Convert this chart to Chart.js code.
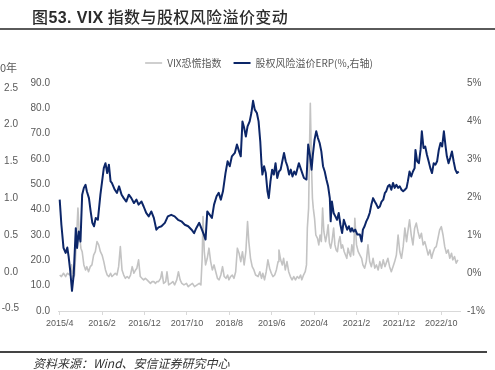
<!DOCTYPE html>
<html><head><meta charset="utf-8">
<script src="https://cdn.jsdelivr.net/npm/chart.js@4.4.0/dist/chart.umd.min.js"></script>
<style>
html,body{margin:0;padding:0;background:#fff;}
#wrap{position:relative;width:495px;height:370px;overflow:hidden;background:#fff;}
#c{position:absolute;left:0;top:0;}
.t{position:absolute;white-space:nowrap;}
.lax{left:0;width:18px;text-align:right;font:10px "Liberation Sans",Arial,sans-serif;color:#595959;line-height:12px;}
</style></head><body>
<div id="wrap">
<canvas id="c" width="495" height="370"></canvas>
<div class="t" style="left:32px;top:8px;font-size:16px;line-height:16px;letter-spacing:0.4px;color:#2b2b2b;font-family:'Noto Sans CJK SC',sans-serif;font-weight:500;">图<span style="font-family:'Liberation Sans',Arial,sans-serif;font-weight:bold;">53. VIX</span> 指数与股权风险溢价变动</div>
<div class="t" style="left:0;top:28px;width:495px;height:2px;background:#5a5a5a;"></div>
<div class="t" style="left:0;top:60px;font:11px 'Noto Sans CJK SC',sans-serif;color:#595959;line-height:14px;">0年</div>
<div class="t lax" style="top:82px;">2.5</div>
<div class="t lax" style="top:118px;">2.0</div>
<div class="t lax" style="top:155px;">1.5</div>
<div class="t lax" style="top:192px;">1.0</div>
<div class="t lax" style="top:229px;">0.5</div>
<div class="t lax" style="top:266px;">0.0</div>
<div class="t lax" style="top:302px;width:19px;">-0.5</div>
<div class="t" style="left:0;top:351px;width:487px;height:2px;background:#444;"></div>
<div class="t" style="left:33px;top:355px;font:italic 12px 'Noto Sans CJK SC',sans-serif;line-height:15px;color:#333;">资料来源：Wind、安信证券研究中心</div>
</div>
<script>
// x positions in months since 2015/4
const xTickLabels = ["2015/4","2016/2","2016/12","2017/10","2018/8","2019/6","2020/4","2021/2","2021/12","2022/10"];

const vixMonths = [0,0.4,0.9,1.4,1.8,2.4,2.8,3.1,3.5,3.9,4.3,4.6,5.0,5.3,5.7,6.1,6.4,6.8,7.2,7.6,8.0,8.4,8.8,9.2,9.6,10.0,10.4,10.8,11.2,11.6,12.0,12.3,12.7,13.1,13.5,13.9,14.3,14.7,15.1,15.5,15.9,16.3,16.7,17.1,17.5,17.9,18.2,18.6,19.0,19.4,19.8,20.2,20.6,21.0,21.4,21.8,22.2,22.6,22.9,23.3,
23.8,24.1,24.5,25.0,25.3,25.7,26.2,26.7,27.1,27.6,28.0,28.4,28.8,29.3,29.9,30.3,30.8,31.3,31.8,32.4,32.9,33.3,33.6,33.8,34.1,34.4,34.8,35.2,35.6,36.0,36.4,36.8,37.2,37.6,38.0,38.4,38.8,39.2,39.6,39.9,40.3,40.7,41.1,41.5,41.9,42.3,42.7,43.1,43.5,43.9,44.3,44.6,45.0,45.4,45.8,46.2,
46.8,47.2,47.6,47.9,48.3,48.7,49.1,49.5,49.9,50.3,50.7,51.1,51.5,51.7,52.1,52.5,52.8,53.2,53.6,54.0,54.4,54.8,55.2,55.6,56.0,56.4,56.8,57.1,57.5,57.9,58.2,58.4,58.7,58.9,59.1,59.4,59.6,59.8,60.1,60.4,60.8,61.1,61.4,61.7,62.0,62.3,62.7,63.0,63.3,63.6,63.9,64.2,64.6,64.9,65.2,65.5,65.8,66.1,66.4,66.7,67.1,67.4,67.7,68.0,68.3,68.6,68.9,69.3,
69.6,70.0,70.4,70.8,71.2,71.5,71.9,72.3,72.7,73.1,73.5,73.9,74.3,74.7,75.1,75.5,75.9,76.3,76.7,77.0,77.4,77.8,78.2,78.6,79.0,79.4,79.8,80.2,80.6,81.0,81.4,81.8,82.1,82.5,82.9,83.3,83.7,84.1,84.5,84.9,85.3,85.7,86.1,86.5,86.9,87.3,87.7,88.0,88.4,88.8,89.2,89.6,90.0,90.4,90.8,91.2,91.6,92.0,92.4,92.7,93.1,93.5,93.9];
const vixValues = [14.2,13.6,14.9,13.6,14.9,14.2,18.2,12.9,14.2,26.1,40.6,31.3,24.8,23.4,18.2,16.2,17.5,15.5,17.5,18.2,22.1,23.4,27.4,26.1,23.4,22.1,19.5,16.2,14.2,13.6,14.9,13.6,14.2,14.9,14.2,17.5,25.4,16.2,14.2,12.9,13.6,12.9,14.2,17.5,14.9,16.2,16.9,20.2,13.6,12.9,12.3,12.9,12.3,11.6,10.9,11.6,11.6,10.9,11.6,11.6,
12.9,15.5,10.9,11.6,15.5,10.3,10.9,11.6,10.3,12.3,15.5,12.3,10.9,10.3,10.9,9.6,10.3,10.9,9.6,10.3,10.9,10.3,20.8,37.3,23.4,18.2,20.8,24.8,19.5,16.2,18.2,15.5,12.9,12.3,14.2,17.5,13.6,12.9,14.2,12.3,13.6,14.2,12.9,15.5,24.8,22.8,19.5,23.4,18.2,23.4,35.3,27.4,20.8,17.5,16.2,14.2,
13.6,15.5,12.9,14.9,12.3,15.5,20.2,16.9,14.9,13.6,14.2,16.2,19.5,24.1,20.2,18.2,20.8,16.2,19.5,15.5,13.6,12.3,13.6,12.3,13.6,12.9,14.2,12.3,14.2,15.5,18.2,32.7,40.6,63,82,56.4,44.5,40.6,36.6,30,28.7,26.1,30,27.4,40.6,31.3,27.4,30,34,26.8,24.8,27.4,32.7,26.1,24.1,23.4,27.4,29.4,24.8,26.1,23.4,22.1,20.8,24.8,22.8,21.5,26.1,22.1,
36.6,26.1,23.4,22.1,20.8,18.2,16.9,19.5,26.1,19.5,17.5,20.8,16.9,18.2,16.2,19.5,16.9,20.2,17.5,18.9,20.8,17.5,15.5,17.5,19.5,22.1,30,23.4,20.8,25.4,32.7,27.4,31.3,36,30,26.1,32.7,34.7,31.3,28.7,30.7,26.1,27.4,24.8,22.1,24.1,20.8,22.8,24.8,25.4,28.7,32,33.3,30,25.4,22.8,24.1,20.8,22.8,20.2,21.5,18.9,20.2];

const erpMonths = [0,0.4,0.9,1.4,1.8,2.1,2.5,2.9,3.3,3.8,4.1,4.5,4.9,5.3,5.7,6.1,6.4,6.9,7.3,7.7,8.1,8.5,9.0,9.6,10.0,10.4,10.8,11.2,11.6,12.0,12.3,13.0,13.5,14.0,14.6,15.1,15.7,16.3,16.9,17.5,18.1,18.6,19.3,19.8,20.4,21.0,21.6,22.2,22.8,23.3,
24.0,24.8,25.5,26.3,27.1,27.9,28.7,29.5,30.3,31.1,31.7,32.2,32.9,33.4,34.0,34.4,34.8,35.4,35.9,36.4,37.0,37.5,38.0,38.5,39.1,39.6,40.1,40.6,41.3,41.8,42.3,42.7,43.1,43.5,43.9,44.3,44.8,45.2,45.6,46.0,46.5,46.9,47.3,47.6,47.8,48.2,48.6,49.0,49.3,49.7,50.1,50.5,50.9,51.3,51.7,52.1,52.5,52.9,53.3,53.7,54.1,54.5,54.9,55.3,55.7,56.1,56.4,56.8,57.2,57.6,58.2,58.6,59.0,59.4,59.7,60.1,60.5,60.9,61.3,61.7,62.1,62.5,62.9,63.3,63.7,63.9,64.2,64.6,65.0,65.4,65.8,66.2,66.6,67.0,67.4,67.8,68.2,68.6,68.9,69.3,69.7,70.2,
70.8,71.2,71.5,71.9,72.3,72.7,73.1,73.5,73.9,74.3,74.7,75.1,75.5,75.9,76.3,76.7,77.0,77.4,77.8,78.2,78.6,79.0,79.4,79.8,80.2,80.6,81.0,81.4,81.8,82.1,82.5,82.9,83.3,83.7,83.9,84.3,84.7,85.1,85.4,85.8,86.2,86.6,87.0,87.4,87.8,88.2,88.6,89.0,89.4,89.8,90.2,90.6,91.0,91.3,91.7,92.1,92.5,92.9,93.3,93.7,94.1];
const erpValues = [1.93,1.27,0.66,0.53,0.67,0.44,0.04,-0.47,-0.05,1.18,0.66,1.09,0.83,2.06,2.24,2.32,2.15,1.97,1.62,1.32,1.23,1.45,1.40,2.06,2.41,2.76,2.89,2.63,2.85,2.41,2.37,2.19,2.11,2.28,2.06,1.97,1.88,2.06,1.97,1.84,1.93,1.80,1.88,1.75,1.58,1.49,1.62,1.45,1.14,1.20,
1.23,1.32,1.49,1.53,1.49,1.40,1.36,1.27,1.23,1.14,1.05,1.18,1.32,1.18,1.01,0.88,1.62,1.53,1.45,1.80,2.02,2.11,1.93,2.15,2.63,2.94,2.81,3.07,3.16,3.38,3.20,3.07,3.99,3.82,3.59,3.86,3.99,4.21,4.53,4.30,4.21,3.99,3.46,2.85,2.59,2.81,2.63,2.15,1.97,2.41,2.72,2.59,2.89,2.50,2.67,2.72,2.94,3.16,2.94,2.81,2.59,2.72,2.54,2.67,2.59,2.76,2.89,2.76,2.63,2.50,2.46,3.38,3.11,2.72,3.11,3.51,3.73,3.55,3.42,3.20,2.81,2.67,2.46,2.28,1.97,1.36,1.88,1.58,1.49,1.40,1.58,1.27,1.05,1.40,1.27,1.14,1.23,1.09,1.18,1.09,1.14,1.01,
1.01,0.83,1.14,1.23,1.36,1.45,1.58,1.80,1.97,1.88,1.80,1.71,1.75,1.88,1.93,2.11,2.15,2.28,2.32,2.19,2.37,2.24,2.32,2.24,2.28,2.19,2.15,2.19,2.24,2.41,2.67,2.54,2.67,2.76,3.24,2.94,2.89,3.24,3.73,3.29,3.33,3.11,2.94,2.76,2.63,2.89,2.85,2.94,3.24,3.42,3.33,3.73,3.33,3.07,2.89,3.03,3.20,2.94,2.72,2.63,2.67];

const tickColor = '#595959';
const numFont = "'Liberation Sans', Arial, sans-serif";

const legendGap = {
  id: 'legendGap',
  beforeLayout(chart) {
    const lg = chart.legend;
    if (lg && !lg._gapPatched) {
      const f = lg.fit;
      lg.fit = function () { f.apply(this, arguments); this.height += 5; };
      lg._gapPatched = true;
    }
  }
};

new Chart(document.getElementById('c'), {
  type: 'line',
  data: {
    datasets: [
      {
        label: 'VIX恐慌指数',
        data: vixMonths.map((m, i) => ({x: m, y: vixValues[i]})),
        borderColor: '#c3c3c3', backgroundColor: '#c3c3c3',
        borderWidth: 1.6, pointRadius: 0, tension: 0, yAxisID: 'y', order: 1,
        borderJoinStyle: 'round'
      },
      {
        label: '股权风险溢价ERP(%,右轴)',
        data: erpMonths.map((m, i) => ({x: m, y: erpValues[i]})),
        borderColor: '#0c2668', backgroundColor: '#0c2668',
        borderWidth: 2, pointRadius: 0, tension: 0, yAxisID: 'y1', order: 0,
        borderJoinStyle: 'round'
      }
    ]
  },
  options: {
    responsive: false,
    animation: false,
    layout: {padding: {left: 23, right: 0, top: 46, bottom: 34}},
    plugins: {
      legend: {
        position: 'top',
        labels: {
          usePointStyle: true, pointStyle: 'line', pointStyleWidth: 17,
          font: {size: 10, family: "'Noto Sans CJK SC', sans-serif"},
          color: tickColor, padding: 12,
          sort: (a, b) => a.datasetIndex - b.datasetIndex
        }
      },
      tooltip: {enabled: false}
    },
    scales: {
      x: {
        type: 'linear', min: -0.4, max: 94.4,
        afterBuildTicks: s => { s.ticks = xTickLabels.map((_, i) => ({value: i * 10})); },
        ticks: {
          autoSkip: false, maxRotation: 0, minRotation: 0,
          callback: v => xTickLabels[Math.round(v / 10)],
          font: {size: 9, family: numFont}, color: tickColor, padding: 3
        },
        grid: {display: true, drawOnChartArea: false, drawTicks: true, tickLength: 4, color: '#d9d9d9'},
        border: {display: true, color: '#d9d9d9'},
        afterFit: s => { s.height = 25; }
      },
      y: {
        position: 'left', min: 0, max: 90,
        ticks: {stepSize: 10, callback: v => Number(v).toFixed(1), font: {size: 10, family: numFont}, color: tickColor, padding: 8},
        grid: {display: false, drawTicks: false}, border: {display: false},
        afterFit: s => { s.width = 35; }
      },
      y1: {
        position: 'right', min: -1, max: 5,
        ticks: {stepSize: 1, callback: v => v + '%', font: {size: 10, family: numFont}, color: tickColor, padding: 7},
        grid: {display: false, drawTicks: false}, border: {display: false},
        afterFit: s => { s.width = 35; }
      }
    }
  },
  plugins: [legendGap]
});
</script>
</body></html>
